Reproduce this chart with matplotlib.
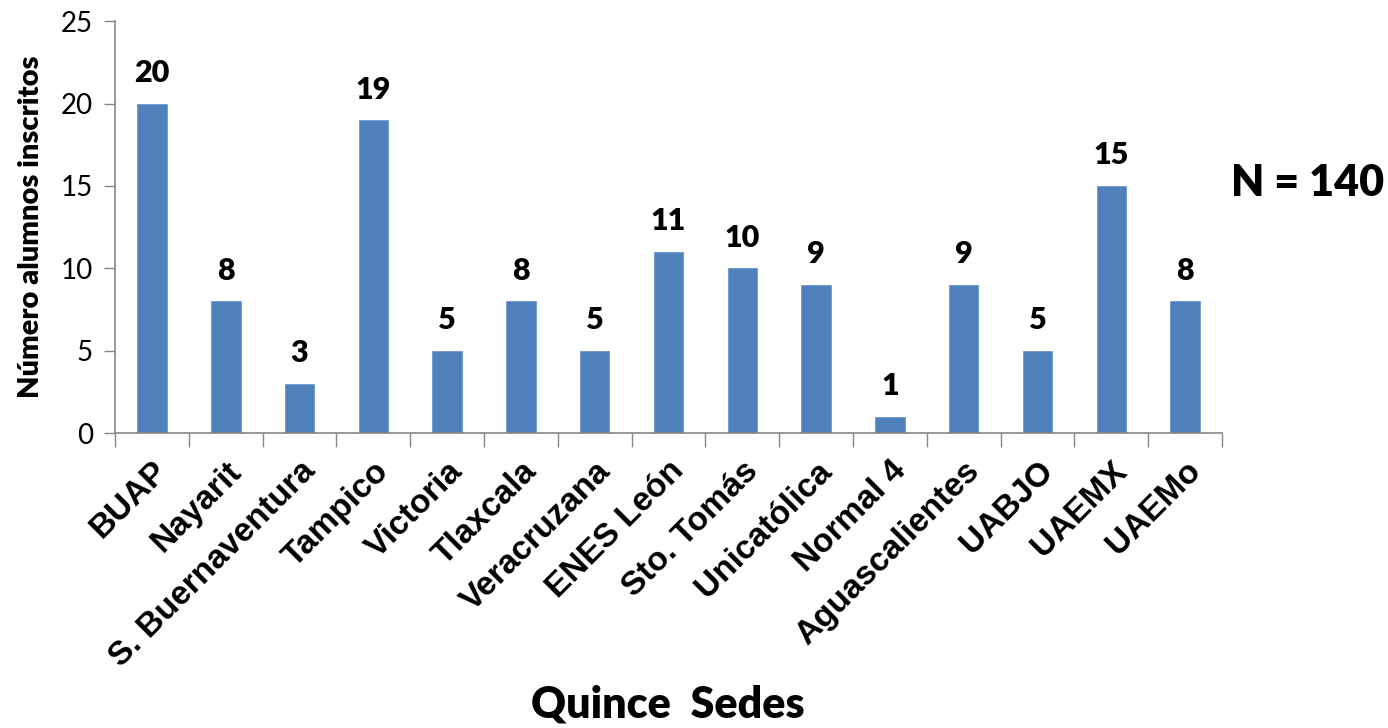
import numpy as np
import matplotlib.pyplot as plt

sedes = ['BUAP', 'Nayarit', 'S. Buernaventura', 'Tampico', 'Victoria', 'Tlaxcala',
         'Veracruzana', 'ENES León', 'Sto. Tomás', 'Unicatólica', 'Normal 4',
         'Aguascalientes', 'UABJO', 'UAEMX', 'UAEMo']
alumnos = [20, 8, 3, 19, 5, 8, 5, 11, 10, 9, 1, 9, 5, 15, 8]
yticks = [0, 5, 10, 15, 20, 25]

azul = '#4F81BD'
gris = '#868686'

fig = plt.figure(figsize=(13.88, 7.28), dpi=100)
ax = fig.add_axes([0.0829, 0.405, 0.7975, 0.566])

x = np.arange(len(sedes))
ax.bar(x, alumnos, width=0.4, color=azul, edgecolor='#6f97cc', linewidth=0.6)

# etiquetas de valor
for xi, v in zip(x, alumnos):
    ax.text(xi, v + 1.0, str(v), ha='center', va='bottom', fontsize=22,
            fontweight='heavy', family='Lato')

ax.set_xlim(-0.5, len(sedes) - 0.5)
ax.set_ylim(0, 25)
ax.set_yticks(yticks)
ax.set_yticklabels([str(t) for t in yticks], fontsize=20, family='Lato')
ax.tick_params(axis='y', direction='out', length=8, width=1, color=gris, pad=8)

ax.set_xticks(x)
ax.set_xticklabels(sedes, rotation=45, ha='right', rotation_mode='anchor',
                   fontsize=24, fontweight='bold', family='Liberation Sans')
ax.tick_params(axis='x', which='major', length=0, pad=16)
ax.set_xticks(np.arange(-0.5, len(sedes)), minor=True)
ax.tick_params(axis='x', which='minor', direction='out', length=10, width=1, color=gris)

for s in ['top', 'right']:
    ax.spines[s].set_visible(False)
for s in ['left', 'bottom']:
    ax.spines[s].set_color(gris)
    ax.spines[s].set_linewidth(1.2)

ax.set_ylabel('Número alumnos inscritos', fontsize=21, fontweight='heavy',
              family='Lato', labelpad=12)

fig.text(0.481, 0.032, 'Quince  Sedes', ha='center', va='center', fontsize=31,
         fontweight='heavy', family='Lato')
fig.text(0.942, 0.749, 'N = 140', ha='center', va='center', fontsize=31,
         fontweight='heavy', family='Lato')

fig.savefig('out.png', dpi=100)
